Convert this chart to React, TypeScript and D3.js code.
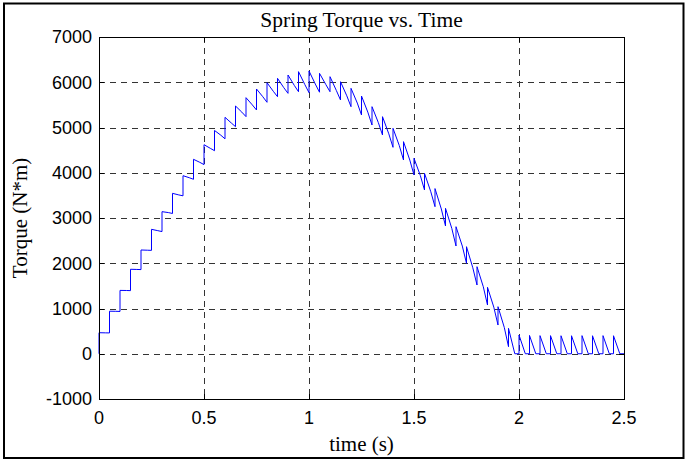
import React from "react";
import * as d3 from "d3";

const xTicks = [0, 0.5, 1, 1.5, 2, 2.5];
const xTickLabels = ["0", "0.5", "1", "1.5", "2", "2.5"];
const yTicks = [-1000, 0, 1000, 2000, 3000, 4000, 5000, 6000, 7000];
const yTickLabels = ["-1000", "0", "1000", "2000", "3000", "4000", "5000", "6000", "7000"];

// impulse times (s), one per period
const stepTimes = [
  0, 0.05, 0.1, 0.15, 0.2, 0.25, 0.3, 0.35, 0.4, 0.45,
  0.5, 0.55, 0.6, 0.65, 0.7, 0.75, 0.8, 0.85, 0.9, 0.95,
  1.0, 1.05, 1.1, 1.15, 1.2, 1.25, 1.3, 1.35, 1.4, 1.45,
  1.5, 1.55, 1.6, 1.65, 1.7, 1.75, 1.8, 1.85, 1.9, 1.95,
  2.0, 2.05, 2.1, 2.15, 2.2, 2.25, 2.3, 2.35, 2.4, 2.45,
];
// torque right after each jump (N*m)
const peakTorque = [
  465, 940, 1400, 1867, 2293, 2750, 3140, 3545, 3935, 4297,
  4620, 4935, 5225, 5475, 5659, 5851, 5990, 6087, 6160, 6234,
  6250, 6197, 6123, 6012, 5866, 5696, 5460, 5239, 4982, 4687,
  4319, 3987, 3650, 3214, 2808, 2366, 1924, 1468, 1040, 562,
  414, 405, 400, 400, 398, 398, 400, 398, 400, 398,
];
// torque 0.03 s after each jump
const kneeTorque = [
  462, 938, 1398, 1863, 2288, 2720, 3120, 3510, 3890, 4230,
  4540, 4830, 5100, 5340, 5500, 5680, 5800, 5880, 5930, 5950,
  5960, 5950, 5820, 5700, 5540, 5340, 5110, 4860, 4600, 4280,
  3940, 3580, 3200, 2770, 2380, 1900, 1480, 1030, 580, 0,
  0, 0, 0, 0, 0, 0, 0, 0, 0, 0,
];
// torque just before the next jump
const endTorque = [
  460, 935, 1395, 1860, 2285, 2700, 3100, 3490, 3855, 4180,
  4487, 4750, 5018, 5240, 5387, 5557, 5681, 5755, 5791, 5770,
  5780, 5791, 5608, 5460, 5276, 5055, 4834, 4562, 4282, 3950,
  3619, 3250, 2823, 2381, 1998, 1519, 1077, 635, 156, 0,
  0, 0, 0, 0, 0, 0, 0, 0, 0, 0,
];
const kneeOffset = 0.03;
const tEnd = 2.5;

const W = 686;
const H = 460;
const PL = 99, PR = 624, PT = 37, PB = 399;

export default function App() {
  const x = d3.scaleLinear().domain([0, 2.5]).range([PL, PR]);
  const y = d3.scaleLinear().domain([-1000, 7000]).range([PB, PT]);

  const pts: [number, number][] = [[0, 0]];
  stepTimes.forEach((t, k) => {
    const next = k + 1 < stepTimes.length ? stepTimes[k + 1] : tEnd;
    pts.push([t, peakTorque[k]]);
    pts.push([t + kneeOffset, kneeTorque[k]]);
    pts.push([next, endTorque[k]]);
  });

  const line = d3
    .line<[number, number]>()
    .x((d) => x(d[0]))
    .y((d) => y(d[1]));

  const serif = "'Liberation Serif', 'Times New Roman', serif";
  const sans = "'Liberation Sans', Arial, sans-serif";
  const tickLen = 5;

  return (
    <svg
      width={W}
      height={H}
      style={{ position: "absolute", left: 0, top: 0, background: "#fff" }}
    >
      <rect x={0} y={0} width={W} height={H} fill="#fff" />
      <rect x={4} y={3.5} width={679.5} height={454.5} fill="none" stroke="#000" strokeWidth={2} />

      {/* grid */}
      {xTicks.slice(1, -1).map((t) => (
        <line
          key={"gx" + t}
          x1={Math.round(x(t)) + 0.5}
          x2={Math.round(x(t)) + 0.5}
          y1={PT}
          y2={PB}
          stroke="#333"
          strokeWidth={1}
          strokeDasharray="6,5"
        />
      ))}
      {yTicks.slice(1, -1).map((v) => (
        <line
          key={"gy" + v}
          x1={PL}
          x2={PR}
          y1={Math.round(y(v)) + 0.5}
          y2={Math.round(y(v)) + 0.5}
          stroke="#333"
          strokeWidth={1}
          strokeDasharray="6,5"
        />
      ))}

      {/* data */}
      <path d={line(pts) || ""} fill="none" stroke="#0000ff" strokeWidth={1} />

      {/* box */}
      <rect x={PL + 0.5} y={PT + 0.5} width={PR - PL} height={PB - PT} fill="none" stroke="#000" strokeWidth={1} />

      {/* ticks */}
      {xTicks.map((t) => (
        <g key={"xt" + t}>
          <line x1={Math.round(x(t)) + 0.5} x2={Math.round(x(t)) + 0.5} y1={PB} y2={PB - tickLen} stroke="#000" />
          <line x1={Math.round(x(t)) + 0.5} x2={Math.round(x(t)) + 0.5} y1={PT} y2={PT + tickLen} stroke="#000" />
        </g>
      ))}
      {yTicks.map((v) => (
        <g key={"yt" + v}>
          <line x1={PL} x2={PL + tickLen} y1={Math.round(y(v)) + 0.5} y2={Math.round(y(v)) + 0.5} stroke="#000" />
          <line x1={PR} x2={PR - tickLen} y1={Math.round(y(v)) + 0.5} y2={Math.round(y(v)) + 0.5} stroke="#000" />
        </g>
      ))}

      {/* tick labels */}
      {xTicks.map((t, i) => (
        <text key={"xl" + t} x={x(t)} y={424} textAnchor="middle" fontFamily={sans} fontSize={18} fill="#000">
          {xTickLabels[i]}
        </text>
      ))}
      {yTicks.map((v, i) => (
        <text
          key={"yl" + v}
          x={92}
          y={y(v)}
          dy="0.36em"
          textAnchor="end"
          fontFamily={sans}
          fontSize={18}
          fill="#000"
        >
          {yTickLabels[i]}
        </text>
      ))}

      {/* titles */}
      <text x={(PL + PR) / 2} y={27} textAnchor="middle" fontFamily={serif} fontSize={21.5} fill="#000">
        Spring Torque vs. Time
      </text>
      <text x={(PL + PR) / 2} y={451} textAnchor="middle" fontFamily={serif} fontSize={21} fill="#000">
        time (s)
      </text>
      <text
        transform={`translate(27, ${(PT + PB) / 2}) rotate(-90)`}
        textAnchor="middle"
        fontFamily={serif}
        fontSize={21}
        fill="#000"
      >
        Torque (N*m)
      </text>
    </svg>
  );
}
